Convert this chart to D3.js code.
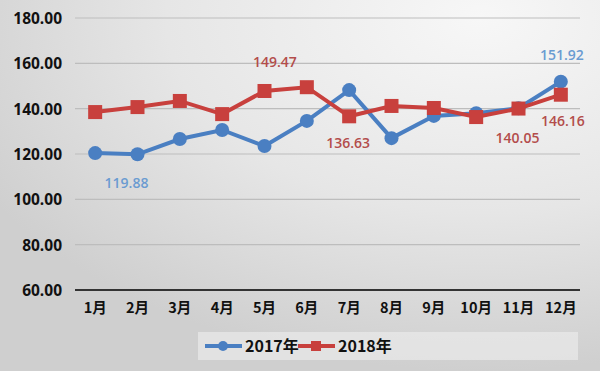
<!DOCTYPE html>
<html>
<head>
<meta charset="utf-8">
<script src="https://cdn.jsdelivr.net/npm/d3@7"></script>
<style>
  body { margin: 0; overflow: hidden; }
</style>
</head>
<body>
<script>
const months = ["1月","2月","3月","4月","5月","6月","7月","8月","9月","10月","11月","12月"]
const sales2017 = [120.4, 119.88, 126.6, 130.6, 123.5, 134.6, 148.2, 127.0, 136.8, 138.0, 140.2, 151.92]
const sales2018 = [138.5, 140.7, 143.4, 137.6, 147.8, 149.47, 136.63, 141.2, 140.3, 136.3, 140.05, 146.16]
const yTicks = [60, 80, 100, 120, 140, 160, 180]
// labelled points: [index, dx, dy]
const labels2017 = [[1, -11, 34], [11, 1, -22]]
const labels2018 = [[5, -32, -20], [6, -1, 32], [10, -1, 34], [11, 2, 31]]

const W = 600, H = 371
const margin = { top: 18, right: 20, bottom: 81, left: 75 }

const svg = d3.select("body").append("svg")
    .attr("width", W)
    .attr("height", H)

const defs = svg.append("defs")
const grad = defs.append("radialGradient")
    .attr("id", "bg")
    .attr("cx", "80%").attr("cy", "5%").attr("r", "95%")
grad.append("stop").attr("offset", "0%").attr("stop-color", "#f7f7f7")
grad.append("stop").attr("offset", "55%").attr("stop-color", "#e6e6e6")
grad.append("stop").attr("offset", "100%").attr("stop-color", "#cfcfcf")

svg.append("rect")
    .attr("width", W).attr("height", H)
    .attr("fill", "url(#bg)")

const x = d3.scaleBand()
    .domain(months)
    .range([74, 582])

const y = d3.scaleLinear()
    .domain([60, 180])
    .range([H - margin.bottom, margin.top])

// grid
svg.append("g")
    .selectAll("line")
    .data(yTicks.slice(1))
    .join("line")
    .attr("x1", margin.left)
    .attr("x2", W - margin.right)
    .attr("y1", d => y(d))
    .attr("y2", d => y(d))
    .attr("stroke", "#bdbdbd")
    .attr("stroke-width", 1.2)

// base axis line
svg.append("line")
    .attr("x1", margin.left).attr("x2", W - margin.right)
    .attr("y1", y(60)).attr("y2", y(60))
    .attr("stroke", "#333").attr("stroke-width", 2)

// y labels
svg.append("g")
    .selectAll("text")
    .data(yTicks)
    .join("text")
    .attr("x", 62)
    .attr("y", d => y(d) + 6)
    .attr("text-anchor", "end")
    .attr("font-family", "Open Sans, sans-serif")
    .attr("font-weight", "bold")
    .attr("font-size", 15.5)
    .attr("fill", "#111")
    .text(d => d.toFixed(2))

// x labels
svg.append("g")
    .selectAll("text")
    .data(months)
    .join("text")
    .attr("x", d => x(d) + x.bandwidth() / 2)
    .attr("y", y(60) + 23)
    .attr("text-anchor", "middle")
    .attr("font-family", "Noto Sans CJK SC, sans-serif")
    .attr("font-weight", "bold")
    .attr("font-size", 14.5)
    .attr("fill", "#111")
    .text(d => d)

const cx = i => x(months[i]) + x.bandwidth() / 2
const line = d3.line().x((d, i) => cx(i)).y(d => y(d))

const blue = "#4a7fc2", red = "#c8403d"

svg.append("path")
    .datum(sales2017)
    .attr("d", line)
    .attr("fill", "none")
    .attr("stroke", blue)
    .attr("stroke-width", 4)

svg.append("g")
    .selectAll("circle")
    .data(sales2017)
    .join("circle")
    .attr("cx", (d, i) => cx(i))
    .attr("cy", d => y(d))
    .attr("r", 7)
    .attr("fill", blue)

svg.append("path")
    .datum(sales2018)
    .attr("d", line)
    .attr("fill", "none")
    .attr("stroke", red)
    .attr("stroke-width", 4)

svg.append("g")
    .selectAll("rect")
    .data(sales2018)
    .join("rect")
    .attr("x", (d, i) => cx(i) - 7)
    .attr("y", d => y(d) - 7)
    .attr("width", 14)
    .attr("height", 14)
    .attr("fill", red)

// value labels
function addLabels(list, data, color) {
    svg.append("g")
        .selectAll("text")
        .data(list)
        .join("text")
        .attr("x", d => cx(d[0]) + d[1])
        .attr("y", d => y(data[d[0]]) + d[2])
        .attr("text-anchor", "middle")
        .attr("font-family", "Open Sans, sans-serif")
        .attr("font-weight", 600)
        .attr("font-size", 14)
        .attr("fill", color)
        .text(d => data[d[0]].toFixed(2))
}
addLabels(labels2017, sales2017, "#6a9bd1")
addLabels(labels2018, sales2018, "#b34d4b")

// legend
const leg = svg.append("g").attr("transform", "translate(205,346)")
leg.append("rect")
    .attr("x", -7).attr("y", -14).attr("width", 380).attr("height", 28)
    .attr("fill", "#eeeeee").attr("opacity", 0.6)
const legItems = [
    { name: "2017年", color: blue, shape: "circle" },
    { name: "2018年", color: red, shape: "square" }
]
legItems.forEach((it, i) => {
    const g = leg.append("g").attr("transform", `translate(${i * 93},0)`)
    g.append("line")
        .attr("x1", 0).attr("x2", 37).attr("y1", 0).attr("y2", 0)
        .attr("stroke", it.color).attr("stroke-width", 4)
    if (it.shape === "circle") {
        g.append("circle").attr("cx", 18).attr("cy", 0).attr("r", 5).attr("fill", it.color)
    } else {
        g.append("rect").attr("x", 13).attr("y", -5).attr("width", 10).attr("height", 10).attr("fill", it.color)
    }
    g.append("text")
        .attr("x", 40).attr("y", 6)
        .attr("font-family", "Noto Sans CJK SC, sans-serif")
        .attr("font-weight", "bold")
        .attr("font-size", 16)
        .attr("fill", "#111")
        .text(it.name)
})
</script>
</body>
</html>
